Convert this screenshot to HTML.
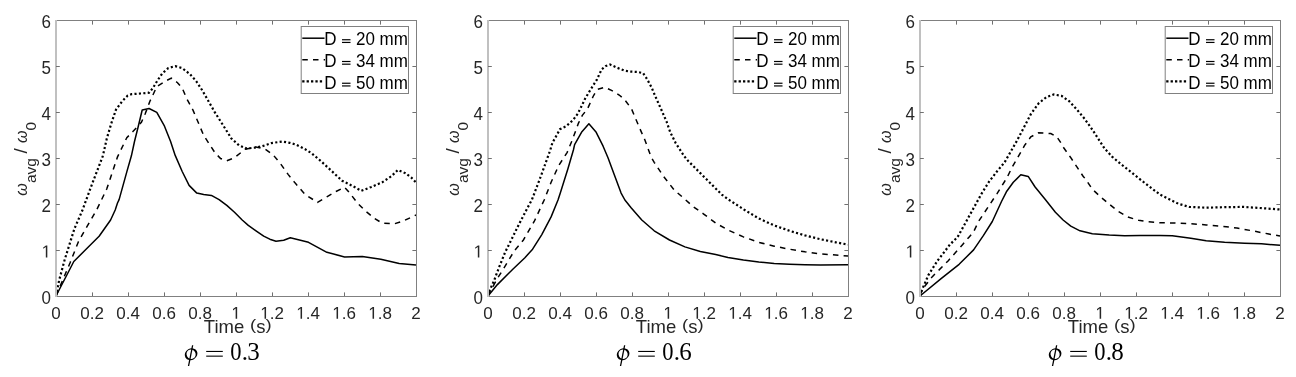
<!DOCTYPE html>
<html><head><meta charset="utf-8"><style>
html,body{margin:0;padding:0;background:#fff;}
svg{display:block;will-change:transform;}
.t{font-family:"Liberation Sans",sans-serif;font-size:17px;fill:#262626;}
.lg{font-family:"Liberation Sans",sans-serif;font-size:17px;fill:#000;}
.xl{font-family:"Liberation Sans",sans-serif;font-size:18.5px;fill:#262626;}
.yl{font-family:"Liberation Sans",sans-serif;font-size:19px;fill:#262626;}
.sub{font-family:"Liberation Sans",sans-serif;font-size:15.5px;fill:#262626;}
.om{font-family:"Liberation Sans",sans-serif;font-style:italic;font-size:16px;fill:#262626;}
.phi{font-family:"Liberation Serif",serif;font-style:italic;font-size:25px;fill:#000;}
.cap{font-family:"Liberation Serif",serif;font-size:25px;fill:#000;}
</style></head><body>
<svg width="1296" height="377" viewBox="0 0 1296 377">
<rect width="1296" height="377" fill="#fff"/>
<g transform="translate(0,0)">
<path d="M56.0 296.0 L59.2 280.0 L64.6 260.0 L70.6 240.8 L74.5 228.5 L82.2 210.8 L91.4 185.8 L102.9 155.8 L106.8 138.5 L111.4 123.1 L116.0 109.6 L122.2 101.2 L127.5 95.8 L131.4 94.2 L140.6 93.5 L149.1 92.7 L152.9 88.1 L157.5 80.4 L162.2 73.5 L168.3 68.1 L175.2 66.1 L182.2 68.1 L190.0 74.2 L196.2 81.2 L202.3 90.4 L208.5 101.2 L214.6 111.9 L223.7 126.2 L231.4 138.5 L239.1 145.4 L246.8 148.5 L254.5 147.7 L262.2 146.2 L271.4 143.1 L282.2 141.5 L289.8 142.8 L296.0 144.6 L305.2 149.2 L311.4 153.1 L320.6 160.8 L331.4 170.8 L342.2 180.8 L351.4 185.4 L361.4 190.8 L371.4 186.9 L382.2 182.3 L391.4 176.2 L397.9 170.0 L405.2 173.1 L411.4 177.7 L416.0 182.5" fill="none" stroke="#000" stroke-width="2.2" stroke-dasharray="2.1 2.33"/>
<path d="M56.0 296.0 L65.4 273.8 L70.0 263.0 L78.5 241.5 L86.8 226.9 L96.8 209.6 L106.8 188.8 L117.5 156.9 L126.8 137.7 L132.9 131.5 L141.4 122.3 L145.2 113.8 L149.8 101.5 L152.9 95.0 L156.8 86.5 L166.8 80.4 L171.4 78.1 L177.5 82.7 L182.2 88.1 L186.8 98.8 L193.1 110.4 L203.7 135.4 L215.2 153.1 L220.6 158.5 L226.8 160.8 L234.5 157.7 L245.2 149.2 L256.0 146.9 L265.2 149.2 L272.9 154.6 L280.6 163.8 L288.3 174.6 L295.2 183.1 L305.2 194.6 L317.5 202.3 L326.8 196.9 L336.0 191.5 L344.5 187.2 L349.8 193.1 L357.5 203.1 L365.2 210.8 L374.5 218.5 L382.2 223.1 L394.5 223.8 L403.7 220.8 L416.0 215.0" fill="none" stroke="#000" stroke-width="1.5" stroke-dasharray="5.5 5.2"/>
<path d="M56.0 296.0 L73.8 261.5 L86.8 248.5 L99.1 236.2 L110.6 220.0 L115.2 210.0 L117.5 203.0 L119.1 199.6 L126.8 171.9 L131.4 155.8 L134.5 141.5 L138.3 126.2 L142.2 110.0 L149.1 108.5 L156.8 112.3 L164.5 126.2 L170.6 141.5 L175.2 155.4 L182.2 171.5 L189.1 185.4 L196.8 193.1 L203.7 194.6 L211.4 195.4 L219.1 199.6 L226.8 205.4 L234.5 212.3 L242.2 220.0 L248.3 225.4 L256.0 230.8 L263.7 236.2 L269.8 239.2 L276.0 241.2 L283.7 240.3 L290.3 237.7 L308.5 242.3 L326.9 252.3 L344.6 256.9 L362.3 256.5 L380.8 259.2 L399.2 263.4 L416.0 265.0" fill="none" stroke="#000" stroke-width="1.5" stroke-linejoin="round"/>
<rect x="56" y="20" width="361" height="1" fill="#808080"/>
<rect x="56" y="296" width="361" height="1" fill="#808080"/>
<rect x="416" y="20" width="1" height="277" fill="#808080"/>
<rect x="55" y="20" width="2" height="277" fill="#c0c0c0"/>
<g transform="translate(51.37 318.80) scale(1 1.000)" fill="#262626"><text x="0.00" class="t">0</text></g>
<rect x="92" y="292.4" width="1" height="3.6" fill="#707070"/>
<rect x="92" y="21" width="1" height="3.6" fill="#707070"/>
<g transform="translate(80.28 318.80) scale(1 1.000)" fill="#262626"><text x="0.00" class="t">0.2</text></g>
<rect x="128" y="292.4" width="1" height="3.6" fill="#707070"/>
<rect x="128" y="21" width="1" height="3.6" fill="#707070"/>
<g transform="translate(116.28 318.80) scale(1 1.000)" fill="#262626"><text x="0.00" class="t">0.4</text></g>
<rect x="164" y="292.4" width="1" height="3.6" fill="#707070"/>
<rect x="164" y="21" width="1" height="3.6" fill="#707070"/>
<g transform="translate(152.28 318.80) scale(1 1.000)" fill="#262626"><text x="0.00" class="t">0.6</text></g>
<rect x="200" y="292.4" width="1" height="3.6" fill="#707070"/>
<rect x="200" y="21" width="1" height="3.6" fill="#707070"/>
<g transform="translate(188.28 318.80) scale(1 1.000)" fill="#262626"><text x="0.00" class="t">0.8</text></g>
<rect x="236" y="292.4" width="1" height="3.6" fill="#707070"/>
<rect x="236" y="21" width="1" height="3.6" fill="#707070"/>
<g transform="translate(231.37 318.80) scale(1 1.000)" fill="#262626"><path transform="translate(0.00 0) scale(0.00830 -0.00830)" d="M515 0L515 1237L197 1010L197 1180L530 1409L696 1409L696 0Z"/></g>
<rect x="272" y="292.4" width="1" height="3.6" fill="#707070"/>
<rect x="272" y="21" width="1" height="3.6" fill="#707070"/>
<g transform="translate(260.28 318.80) scale(1 1.000)" fill="#262626"><path transform="translate(0.00 0) scale(0.00830 -0.00830)" d="M515 0L515 1237L197 1010L197 1180L530 1409L696 1409L696 0Z"/><text x="9.45" class="t">.2</text></g>
<rect x="308" y="292.4" width="1" height="3.6" fill="#707070"/>
<rect x="308" y="21" width="1" height="3.6" fill="#707070"/>
<g transform="translate(296.28 318.80) scale(1 1.000)" fill="#262626"><path transform="translate(0.00 0) scale(0.00830 -0.00830)" d="M515 0L515 1237L197 1010L197 1180L530 1409L696 1409L696 0Z"/><text x="9.45" class="t">.4</text></g>
<rect x="344" y="292.4" width="1" height="3.6" fill="#707070"/>
<rect x="344" y="21" width="1" height="3.6" fill="#707070"/>
<g transform="translate(332.28 318.80) scale(1 1.000)" fill="#262626"><path transform="translate(0.00 0) scale(0.00830 -0.00830)" d="M515 0L515 1237L197 1010L197 1180L530 1409L696 1409L696 0Z"/><text x="9.45" class="t">.6</text></g>
<rect x="380" y="292.4" width="1" height="3.6" fill="#707070"/>
<rect x="380" y="21" width="1" height="3.6" fill="#707070"/>
<g transform="translate(368.28 318.80) scale(1 1.000)" fill="#262626"><path transform="translate(0.00 0) scale(0.00830 -0.00830)" d="M515 0L515 1237L197 1010L197 1180L530 1409L696 1409L696 0Z"/><text x="9.45" class="t">.8</text></g>
<g transform="translate(411.37 318.80) scale(1 1.000)" fill="#262626"><text x="0.00" class="t">2</text></g>
<g transform="translate(41.55 303.50) scale(1 1.030)" fill="#262626"><text x="0.00" class="t">0</text></g>
<rect x="56" y="250" width="3.8" height="1" fill="#707070"/>
<rect x="412.4" y="250" width="3.6" height="1" fill="#707070"/>
<g transform="translate(41.55 257.50) scale(1 1.030)" fill="#262626"><path transform="translate(0.00 0) scale(0.00830 -0.00830)" d="M515 0L515 1237L197 1010L197 1180L530 1409L696 1409L696 0Z"/></g>
<rect x="56" y="204" width="3.8" height="1" fill="#707070"/>
<rect x="412.4" y="204" width="3.6" height="1" fill="#707070"/>
<g transform="translate(41.55 211.50) scale(1 1.030)" fill="#262626"><text x="0.00" class="t">2</text></g>
<rect x="56" y="158" width="3.8" height="1" fill="#707070"/>
<rect x="412.4" y="158" width="3.6" height="1" fill="#707070"/>
<g transform="translate(41.55 165.50) scale(1 1.030)" fill="#262626"><text x="0.00" class="t">3</text></g>
<rect x="56" y="112" width="3.8" height="1" fill="#707070"/>
<rect x="412.4" y="112" width="3.6" height="1" fill="#707070"/>
<g transform="translate(41.55 119.50) scale(1 1.030)" fill="#262626"><text x="0.00" class="t">4</text></g>
<rect x="56" y="66" width="3.8" height="1" fill="#707070"/>
<rect x="412.4" y="66" width="3.6" height="1" fill="#707070"/>
<g transform="translate(41.55 73.50) scale(1 1.030)" fill="#262626"><text x="0.00" class="t">5</text></g>
<g transform="translate(41.55 27.50) scale(1 1.030)" fill="#262626"><text x="0.00" class="t">6</text></g>
<text x="203.79" y="332.7" class="xl">Time</text>
<text transform="translate(250.04 332.7) scale(1 0.78)" y="-3.9" class="xl">(</text>
<text x="256.20" y="332.7" class="xl">s</text>
<text transform="translate(265.45 332.7) scale(1 0.78)" y="-3.9" class="xl">)</text>
<g transform="translate(26.6,195) rotate(-90)"><text x="-0.8" y="0" class="om">&#969;</text><text x="11.9" y="9.2" class="sub">avg</text><text x="41.6" y="0.6" class="yl">/</text><text x="52.1" y="0" class="om">&#969;</text><text x="64.6" y="9.4" class="sub">0</text></g>
<rect x="301.2" y="26.5" width="107.3" height="67" fill="#fff" stroke="#808080" stroke-width="1"/>
<line x1="302.3" y1="38.2" x2="324.5" y2="38.2" fill="none" stroke="#000" stroke-width="1.5" stroke-linejoin="round"/>
<line x1="302.3" y1="59.8" x2="325" y2="59.8" fill="none" stroke="#000" stroke-width="1.5" stroke-dasharray="5.5 5.2"/>
<line x1="302.2" y1="81.4" x2="323.5" y2="81.4" fill="none" stroke="#000" stroke-width="2.3" stroke-dasharray="2.3 2.1"/>
<g transform="translate(324.30 45.10) scale(1 1.035)" fill="#000"><text x="0.00" class="lg">D </text><rect x="17.71" y="-5.75" width="8.5" height="1.15"/><rect x="17.71" y="-3.15" width="8.5" height="1.15"/><text x="31.65" class="lg">20 mm</text></g>
<g transform="translate(324.30 66.85) scale(1 1.035)" fill="#000"><text x="0.00" class="lg">D </text><rect x="17.71" y="-5.75" width="8.5" height="1.15"/><rect x="17.71" y="-3.15" width="8.5" height="1.15"/><text x="31.65" class="lg">34 mm</text></g>
<g transform="translate(324.30 88.60) scale(1 1.035)" fill="#000"><text x="0.00" class="lg">D </text><rect x="17.71" y="-5.75" width="8.5" height="1.15"/><rect x="17.71" y="-3.15" width="8.5" height="1.15"/><text x="31.65" class="lg">50 mm</text></g>
<g transform="translate(191.1 354.2) rotate(-30)"><path fill-rule="evenodd" d="M-6.6 0A6.6 5.7 0 1 0 6.6 0A6.6 5.7 0 1 0 -6.6 0ZM-4.5 0A4.5 4.8 0 1 0 4.5 0A4.5 4.8 0 1 0 -4.5 0Z"/></g>
<path d="M192 345.3L193.3 345.3L189.2 365.9L187.9 365.9Z"/>
<rect x="206.2" y="350.9" width="16.6" height="1.1" fill="#000"/>
<rect x="206.2" y="355.6" width="16.6" height="1.1" fill="#000"/>
<text transform="translate(230.3 360.2) scale(0.9 1)" class="cap">0</text>
<text x="241.8" y="360.2" class="cap">.</text>
<text x="247.2" y="360.2" class="cap">3</text>
</g>
<g transform="translate(432,0)">
<path d="M56.0 296.0 L56.9 292.3 L62.3 280.0 L66.9 267.7 L73.1 252.3 L78.5 241.5 L86.8 224.6 L96.0 206.9 L99.8 200.0 L108.3 177.7 L118.3 150.0 L120.3 143.1 L128.0 129.2 L134.2 126.2 L141.1 120.0 L145.7 113.8 L150.3 104.6 L153.4 98.1 L159.5 88.1 L164.9 79.6 L169.5 69.6 L173.4 66.1 L178.0 64.5 L184.2 67.3 L191.8 70.4 L198.0 71.6 L205.7 71.9 L211.1 73.2 L214.9 78.8 L219.5 87.3 L223.4 96.5 L229.8 110.8 L234.5 121.5 L238.3 132.3 L243.7 143.1 L252.2 156.2 L256.0 160.8 L268.3 173.1 L280.6 185.4 L289.8 194.6 L296.0 199.2 L311.4 209.2 L326.8 218.5 L342.2 225.4 L357.5 230.8 L372.9 235.4 L388.3 239.2 L403.7 242.3 L416.0 244.6" fill="none" stroke="#000" stroke-width="2.2" stroke-dasharray="2.1 2.33"/>
<path d="M56.0 296.0 L57.7 292.3 L65.4 278.5 L73.1 266.2 L82.3 250.8 L91.4 240.0 L102.2 221.5 L112.2 200.0 L119.1 182.3 L126.8 165.4 L135.2 152.3 L140.3 140.0 L146.5 123.1 L150.3 115.4 L155.7 108.5 L161.1 96.5 L164.9 89.6 L172.6 87.3 L179.5 90.4 L187.2 95.0 L192.6 99.6 L199.5 108.8 L206.8 126.2 L212.9 140.0 L219.1 156.9 L222.2 162.3 L231.4 176.2 L242.2 190.0 L252.9 199.2 L260.6 206.2 L271.4 213.8 L283.7 223.1 L296.0 230.0 L311.4 236.9 L326.8 242.3 L342.2 246.2 L357.5 249.2 L372.9 251.8 L388.3 253.8 L416.0 256.0" fill="none" stroke="#000" stroke-width="1.5" stroke-dasharray="5.5 5.2"/>
<path d="M56.0 296.0 L65.4 284.6 L80.8 269.2 L92.9 257.7 L100.6 249.2 L109.8 234.6 L119.1 216.9 L126.0 200.0 L128.3 193.1 L136.0 168.5 L141.4 150.0 L142.6 144.6 L149.5 132.3 L156.9 123.8 L164.2 132.3 L171.1 146.2 L176.0 157.7 L182.2 174.6 L189.1 193.1 L192.9 200.0 L199.1 207.7 L209.8 220.0 L222.2 230.8 L237.5 240.0 L252.9 246.9 L268.3 251.5 L283.7 254.6 L296.0 257.4 L311.4 260.0 L326.8 262.0 L342.2 263.4 L357.5 264.2 L372.9 264.8 L388.3 265.1 L416.0 264.8" fill="none" stroke="#000" stroke-width="1.5" stroke-linejoin="round"/>
<rect x="56" y="20" width="361" height="1" fill="#808080"/>
<rect x="56" y="296" width="361" height="1" fill="#808080"/>
<rect x="416" y="20" width="1" height="277" fill="#808080"/>
<rect x="55" y="20" width="2" height="277" fill="#c0c0c0"/>
<g transform="translate(51.37 318.80) scale(1 1.000)" fill="#262626"><text x="0.00" class="t">0</text></g>
<rect x="92" y="292.4" width="1" height="3.6" fill="#707070"/>
<rect x="92" y="21" width="1" height="3.6" fill="#707070"/>
<g transform="translate(80.28 318.80) scale(1 1.000)" fill="#262626"><text x="0.00" class="t">0.2</text></g>
<rect x="128" y="292.4" width="1" height="3.6" fill="#707070"/>
<rect x="128" y="21" width="1" height="3.6" fill="#707070"/>
<g transform="translate(116.28 318.80) scale(1 1.000)" fill="#262626"><text x="0.00" class="t">0.4</text></g>
<rect x="164" y="292.4" width="1" height="3.6" fill="#707070"/>
<rect x="164" y="21" width="1" height="3.6" fill="#707070"/>
<g transform="translate(152.28 318.80) scale(1 1.000)" fill="#262626"><text x="0.00" class="t">0.6</text></g>
<rect x="200" y="292.4" width="1" height="3.6" fill="#707070"/>
<rect x="200" y="21" width="1" height="3.6" fill="#707070"/>
<g transform="translate(188.28 318.80) scale(1 1.000)" fill="#262626"><text x="0.00" class="t">0.8</text></g>
<rect x="236" y="292.4" width="1" height="3.6" fill="#707070"/>
<rect x="236" y="21" width="1" height="3.6" fill="#707070"/>
<g transform="translate(231.37 318.80) scale(1 1.000)" fill="#262626"><path transform="translate(0.00 0) scale(0.00830 -0.00830)" d="M515 0L515 1237L197 1010L197 1180L530 1409L696 1409L696 0Z"/></g>
<rect x="272" y="292.4" width="1" height="3.6" fill="#707070"/>
<rect x="272" y="21" width="1" height="3.6" fill="#707070"/>
<g transform="translate(260.28 318.80) scale(1 1.000)" fill="#262626"><path transform="translate(0.00 0) scale(0.00830 -0.00830)" d="M515 0L515 1237L197 1010L197 1180L530 1409L696 1409L696 0Z"/><text x="9.45" class="t">.2</text></g>
<rect x="308" y="292.4" width="1" height="3.6" fill="#707070"/>
<rect x="308" y="21" width="1" height="3.6" fill="#707070"/>
<g transform="translate(296.28 318.80) scale(1 1.000)" fill="#262626"><path transform="translate(0.00 0) scale(0.00830 -0.00830)" d="M515 0L515 1237L197 1010L197 1180L530 1409L696 1409L696 0Z"/><text x="9.45" class="t">.4</text></g>
<rect x="344" y="292.4" width="1" height="3.6" fill="#707070"/>
<rect x="344" y="21" width="1" height="3.6" fill="#707070"/>
<g transform="translate(332.28 318.80) scale(1 1.000)" fill="#262626"><path transform="translate(0.00 0) scale(0.00830 -0.00830)" d="M515 0L515 1237L197 1010L197 1180L530 1409L696 1409L696 0Z"/><text x="9.45" class="t">.6</text></g>
<rect x="380" y="292.4" width="1" height="3.6" fill="#707070"/>
<rect x="380" y="21" width="1" height="3.6" fill="#707070"/>
<g transform="translate(368.28 318.80) scale(1 1.000)" fill="#262626"><path transform="translate(0.00 0) scale(0.00830 -0.00830)" d="M515 0L515 1237L197 1010L197 1180L530 1409L696 1409L696 0Z"/><text x="9.45" class="t">.8</text></g>
<g transform="translate(411.37 318.80) scale(1 1.000)" fill="#262626"><text x="0.00" class="t">2</text></g>
<g transform="translate(41.55 303.50) scale(1 1.030)" fill="#262626"><text x="0.00" class="t">0</text></g>
<rect x="56" y="250" width="3.8" height="1" fill="#707070"/>
<rect x="412.4" y="250" width="3.6" height="1" fill="#707070"/>
<g transform="translate(41.55 257.50) scale(1 1.030)" fill="#262626"><path transform="translate(0.00 0) scale(0.00830 -0.00830)" d="M515 0L515 1237L197 1010L197 1180L530 1409L696 1409L696 0Z"/></g>
<rect x="56" y="204" width="3.8" height="1" fill="#707070"/>
<rect x="412.4" y="204" width="3.6" height="1" fill="#707070"/>
<g transform="translate(41.55 211.50) scale(1 1.030)" fill="#262626"><text x="0.00" class="t">2</text></g>
<rect x="56" y="158" width="3.8" height="1" fill="#707070"/>
<rect x="412.4" y="158" width="3.6" height="1" fill="#707070"/>
<g transform="translate(41.55 165.50) scale(1 1.030)" fill="#262626"><text x="0.00" class="t">3</text></g>
<rect x="56" y="112" width="3.8" height="1" fill="#707070"/>
<rect x="412.4" y="112" width="3.6" height="1" fill="#707070"/>
<g transform="translate(41.55 119.50) scale(1 1.030)" fill="#262626"><text x="0.00" class="t">4</text></g>
<rect x="56" y="66" width="3.8" height="1" fill="#707070"/>
<rect x="412.4" y="66" width="3.6" height="1" fill="#707070"/>
<g transform="translate(41.55 73.50) scale(1 1.030)" fill="#262626"><text x="0.00" class="t">5</text></g>
<g transform="translate(41.55 27.50) scale(1 1.030)" fill="#262626"><text x="0.00" class="t">6</text></g>
<text x="203.79" y="332.7" class="xl">Time</text>
<text transform="translate(250.04 332.7) scale(1 0.78)" y="-3.9" class="xl">(</text>
<text x="256.20" y="332.7" class="xl">s</text>
<text transform="translate(265.45 332.7) scale(1 0.78)" y="-3.9" class="xl">)</text>
<g transform="translate(26.6,195) rotate(-90)"><text x="-0.8" y="0" class="om">&#969;</text><text x="11.9" y="9.2" class="sub">avg</text><text x="41.6" y="0.6" class="yl">/</text><text x="52.1" y="0" class="om">&#969;</text><text x="64.6" y="9.4" class="sub">0</text></g>
<rect x="301.2" y="26.5" width="107.3" height="67" fill="#fff" stroke="#808080" stroke-width="1"/>
<line x1="302.3" y1="38.2" x2="324.5" y2="38.2" fill="none" stroke="#000" stroke-width="1.5" stroke-linejoin="round"/>
<line x1="302.3" y1="59.8" x2="325" y2="59.8" fill="none" stroke="#000" stroke-width="1.5" stroke-dasharray="5.5 5.2"/>
<line x1="302.2" y1="81.4" x2="323.5" y2="81.4" fill="none" stroke="#000" stroke-width="2.3" stroke-dasharray="2.3 2.1"/>
<g transform="translate(324.30 45.10) scale(1 1.035)" fill="#000"><text x="0.00" class="lg">D </text><rect x="17.71" y="-5.75" width="8.5" height="1.15"/><rect x="17.71" y="-3.15" width="8.5" height="1.15"/><text x="31.65" class="lg">20 mm</text></g>
<g transform="translate(324.30 66.85) scale(1 1.035)" fill="#000"><text x="0.00" class="lg">D </text><rect x="17.71" y="-5.75" width="8.5" height="1.15"/><rect x="17.71" y="-3.15" width="8.5" height="1.15"/><text x="31.65" class="lg">34 mm</text></g>
<g transform="translate(324.30 88.60) scale(1 1.035)" fill="#000"><text x="0.00" class="lg">D </text><rect x="17.71" y="-5.75" width="8.5" height="1.15"/><rect x="17.71" y="-3.15" width="8.5" height="1.15"/><text x="31.65" class="lg">50 mm</text></g>
<g transform="translate(191.1 354.2) rotate(-30)"><path fill-rule="evenodd" d="M-6.6 0A6.6 5.7 0 1 0 6.6 0A6.6 5.7 0 1 0 -6.6 0ZM-4.5 0A4.5 4.8 0 1 0 4.5 0A4.5 4.8 0 1 0 -4.5 0Z"/></g>
<path d="M192 345.3L193.3 345.3L189.2 365.9L187.9 365.9Z"/>
<rect x="206.2" y="350.9" width="16.6" height="1.1" fill="#000"/>
<rect x="206.2" y="355.6" width="16.6" height="1.1" fill="#000"/>
<text transform="translate(230.3 360.2) scale(0.9 1)" class="cap">0</text>
<text x="241.8" y="360.2" class="cap">.</text>
<text x="247.2" y="360.2" class="cap">6</text>
</g>
<g transform="translate(864,0)">
<path d="M56.0 296.0 L58.1 289.6 L64.4 275.1 L73.5 260.7 L86.1 244.4 L93.7 236.9 L102.2 221.5 L109.8 207.7 L117.5 193.8 L125.2 181.5 L132.9 171.5 L140.6 162.3 L146.8 151.5 L152.9 140.8 L159.1 129.0 L166.8 114.2 L174.5 103.5 L182.2 97.3 L189.8 94.5 L197.5 95.8 L205.2 101.2 L212.9 109.6 L220.6 118.8 L228.3 129.6 L234.5 139.2 L240.6 148.5 L248.3 156.9 L257.5 164.6 L268.3 173.1 L277.5 180.5 L286.8 187.7 L296.0 194.6 L305.2 199.2 L314.5 203.8 L325.2 206.9 L342.2 207.7 L360.6 207.2 L379.1 206.9 L396.0 208.0 L416.0 209.5" fill="none" stroke="#000" stroke-width="2.2" stroke-dasharray="2.1 2.33"/>
<path d="M56.0 296.0 L58.1 289.6 L68.1 276.9 L84.3 260.7 L98.7 244.4 L105.2 236.9 L109.6 231.8 L114.5 221.5 L123.7 207.7 L132.9 193.8 L140.6 181.5 L143.7 176.2 L148.3 166.9 L154.5 156.2 L160.6 145.4 L166.8 136.9 L174.5 132.8 L182.2 133.3 L186.8 133.5 L192.9 136.9 L196.8 142.7 L199.1 146.9 L206.8 157.7 L212.9 166.9 L219.1 176.2 L222.2 180.0 L228.3 189.2 L237.5 197.7 L246.8 205.4 L254.5 211.5 L263.7 216.9 L274.5 220.3 L283.7 221.8 L296.0 222.7 L311.4 223.1 L326.8 223.8 L342.2 224.9 L357.5 226.2 L372.9 228.0 L388.3 230.8 L403.7 233.8 L416.0 236.0" fill="none" stroke="#000" stroke-width="1.5" stroke-dasharray="5.5 5.2"/>
<path d="M56.0 296.0 L57.2 295.0 L77.1 278.7 L95.1 264.3 L109.6 249.9 L119.5 235.4 L128.3 221.5 L137.5 201.5 L142.4 191.8 L149.3 182.3 L156.8 174.8 L164.2 176.4 L171.1 187.0 L181.1 199.2 L191.4 212.3 L199.1 220.0 L206.8 226.2 L216.0 230.8 L228.3 233.8 L245.2 235.1 L260.6 235.7 L276.0 235.4 L296.0 235.5 L308.3 235.8 L326.8 238.3 L342.2 240.8 L360.6 242.2 L380.6 243.2 L397.5 243.8 L416.0 245.3" fill="none" stroke="#000" stroke-width="1.5" stroke-linejoin="round"/>
<rect x="56" y="20" width="361" height="1" fill="#808080"/>
<rect x="56" y="296" width="361" height="1" fill="#808080"/>
<rect x="416" y="20" width="1" height="277" fill="#808080"/>
<rect x="55" y="20" width="2" height="277" fill="#c0c0c0"/>
<g transform="translate(51.37 318.80) scale(1 1.000)" fill="#262626"><text x="0.00" class="t">0</text></g>
<rect x="92" y="292.4" width="1" height="3.6" fill="#707070"/>
<rect x="92" y="21" width="1" height="3.6" fill="#707070"/>
<g transform="translate(80.28 318.80) scale(1 1.000)" fill="#262626"><text x="0.00" class="t">0.2</text></g>
<rect x="128" y="292.4" width="1" height="3.6" fill="#707070"/>
<rect x="128" y="21" width="1" height="3.6" fill="#707070"/>
<g transform="translate(116.28 318.80) scale(1 1.000)" fill="#262626"><text x="0.00" class="t">0.4</text></g>
<rect x="164" y="292.4" width="1" height="3.6" fill="#707070"/>
<rect x="164" y="21" width="1" height="3.6" fill="#707070"/>
<g transform="translate(152.28 318.80) scale(1 1.000)" fill="#262626"><text x="0.00" class="t">0.6</text></g>
<rect x="200" y="292.4" width="1" height="3.6" fill="#707070"/>
<rect x="200" y="21" width="1" height="3.6" fill="#707070"/>
<g transform="translate(188.28 318.80) scale(1 1.000)" fill="#262626"><text x="0.00" class="t">0.8</text></g>
<rect x="236" y="292.4" width="1" height="3.6" fill="#707070"/>
<rect x="236" y="21" width="1" height="3.6" fill="#707070"/>
<g transform="translate(231.37 318.80) scale(1 1.000)" fill="#262626"><path transform="translate(0.00 0) scale(0.00830 -0.00830)" d="M515 0L515 1237L197 1010L197 1180L530 1409L696 1409L696 0Z"/></g>
<rect x="272" y="292.4" width="1" height="3.6" fill="#707070"/>
<rect x="272" y="21" width="1" height="3.6" fill="#707070"/>
<g transform="translate(260.28 318.80) scale(1 1.000)" fill="#262626"><path transform="translate(0.00 0) scale(0.00830 -0.00830)" d="M515 0L515 1237L197 1010L197 1180L530 1409L696 1409L696 0Z"/><text x="9.45" class="t">.2</text></g>
<rect x="308" y="292.4" width="1" height="3.6" fill="#707070"/>
<rect x="308" y="21" width="1" height="3.6" fill="#707070"/>
<g transform="translate(296.28 318.80) scale(1 1.000)" fill="#262626"><path transform="translate(0.00 0) scale(0.00830 -0.00830)" d="M515 0L515 1237L197 1010L197 1180L530 1409L696 1409L696 0Z"/><text x="9.45" class="t">.4</text></g>
<rect x="344" y="292.4" width="1" height="3.6" fill="#707070"/>
<rect x="344" y="21" width="1" height="3.6" fill="#707070"/>
<g transform="translate(332.28 318.80) scale(1 1.000)" fill="#262626"><path transform="translate(0.00 0) scale(0.00830 -0.00830)" d="M515 0L515 1237L197 1010L197 1180L530 1409L696 1409L696 0Z"/><text x="9.45" class="t">.6</text></g>
<rect x="380" y="292.4" width="1" height="3.6" fill="#707070"/>
<rect x="380" y="21" width="1" height="3.6" fill="#707070"/>
<g transform="translate(368.28 318.80) scale(1 1.000)" fill="#262626"><path transform="translate(0.00 0) scale(0.00830 -0.00830)" d="M515 0L515 1237L197 1010L197 1180L530 1409L696 1409L696 0Z"/><text x="9.45" class="t">.8</text></g>
<g transform="translate(411.37 318.80) scale(1 1.000)" fill="#262626"><text x="0.00" class="t">2</text></g>
<g transform="translate(41.55 303.50) scale(1 1.030)" fill="#262626"><text x="0.00" class="t">0</text></g>
<rect x="56" y="250" width="3.8" height="1" fill="#707070"/>
<rect x="412.4" y="250" width="3.6" height="1" fill="#707070"/>
<g transform="translate(41.55 257.50) scale(1 1.030)" fill="#262626"><path transform="translate(0.00 0) scale(0.00830 -0.00830)" d="M515 0L515 1237L197 1010L197 1180L530 1409L696 1409L696 0Z"/></g>
<rect x="56" y="204" width="3.8" height="1" fill="#707070"/>
<rect x="412.4" y="204" width="3.6" height="1" fill="#707070"/>
<g transform="translate(41.55 211.50) scale(1 1.030)" fill="#262626"><text x="0.00" class="t">2</text></g>
<rect x="56" y="158" width="3.8" height="1" fill="#707070"/>
<rect x="412.4" y="158" width="3.6" height="1" fill="#707070"/>
<g transform="translate(41.55 165.50) scale(1 1.030)" fill="#262626"><text x="0.00" class="t">3</text></g>
<rect x="56" y="112" width="3.8" height="1" fill="#707070"/>
<rect x="412.4" y="112" width="3.6" height="1" fill="#707070"/>
<g transform="translate(41.55 119.50) scale(1 1.030)" fill="#262626"><text x="0.00" class="t">4</text></g>
<rect x="56" y="66" width="3.8" height="1" fill="#707070"/>
<rect x="412.4" y="66" width="3.6" height="1" fill="#707070"/>
<g transform="translate(41.55 73.50) scale(1 1.030)" fill="#262626"><text x="0.00" class="t">5</text></g>
<g transform="translate(41.55 27.50) scale(1 1.030)" fill="#262626"><text x="0.00" class="t">6</text></g>
<text x="203.79" y="332.7" class="xl">Time</text>
<text transform="translate(250.04 332.7) scale(1 0.78)" y="-3.9" class="xl">(</text>
<text x="256.20" y="332.7" class="xl">s</text>
<text transform="translate(265.45 332.7) scale(1 0.78)" y="-3.9" class="xl">)</text>
<g transform="translate(26.6,195) rotate(-90)"><text x="-0.8" y="0" class="om">&#969;</text><text x="11.9" y="9.2" class="sub">avg</text><text x="41.6" y="0.6" class="yl">/</text><text x="52.1" y="0" class="om">&#969;</text><text x="64.6" y="9.4" class="sub">0</text></g>
<rect x="301.2" y="26.5" width="107.3" height="67" fill="#fff" stroke="#808080" stroke-width="1"/>
<line x1="302.3" y1="38.2" x2="324.5" y2="38.2" fill="none" stroke="#000" stroke-width="1.5" stroke-linejoin="round"/>
<line x1="302.3" y1="59.8" x2="325" y2="59.8" fill="none" stroke="#000" stroke-width="1.5" stroke-dasharray="5.5 5.2"/>
<line x1="302.2" y1="81.4" x2="323.5" y2="81.4" fill="none" stroke="#000" stroke-width="2.3" stroke-dasharray="2.3 2.1"/>
<g transform="translate(324.30 45.10) scale(1 1.035)" fill="#000"><text x="0.00" class="lg">D </text><rect x="17.71" y="-5.75" width="8.5" height="1.15"/><rect x="17.71" y="-3.15" width="8.5" height="1.15"/><text x="31.65" class="lg">20 mm</text></g>
<g transform="translate(324.30 66.85) scale(1 1.035)" fill="#000"><text x="0.00" class="lg">D </text><rect x="17.71" y="-5.75" width="8.5" height="1.15"/><rect x="17.71" y="-3.15" width="8.5" height="1.15"/><text x="31.65" class="lg">34 mm</text></g>
<g transform="translate(324.30 88.60) scale(1 1.035)" fill="#000"><text x="0.00" class="lg">D </text><rect x="17.71" y="-5.75" width="8.5" height="1.15"/><rect x="17.71" y="-3.15" width="8.5" height="1.15"/><text x="31.65" class="lg">50 mm</text></g>
<g transform="translate(191.1 354.2) rotate(-30)"><path fill-rule="evenodd" d="M-6.6 0A6.6 5.7 0 1 0 6.6 0A6.6 5.7 0 1 0 -6.6 0ZM-4.5 0A4.5 4.8 0 1 0 4.5 0A4.5 4.8 0 1 0 -4.5 0Z"/></g>
<path d="M192 345.3L193.3 345.3L189.2 365.9L187.9 365.9Z"/>
<rect x="206.2" y="350.9" width="16.6" height="1.1" fill="#000"/>
<rect x="206.2" y="355.6" width="16.6" height="1.1" fill="#000"/>
<text transform="translate(230.3 360.2) scale(0.9 1)" class="cap">0</text>
<text x="241.8" y="360.2" class="cap">.</text>
<text x="247.2" y="360.2" class="cap">8</text>
</g>
</svg>
</body></html>
